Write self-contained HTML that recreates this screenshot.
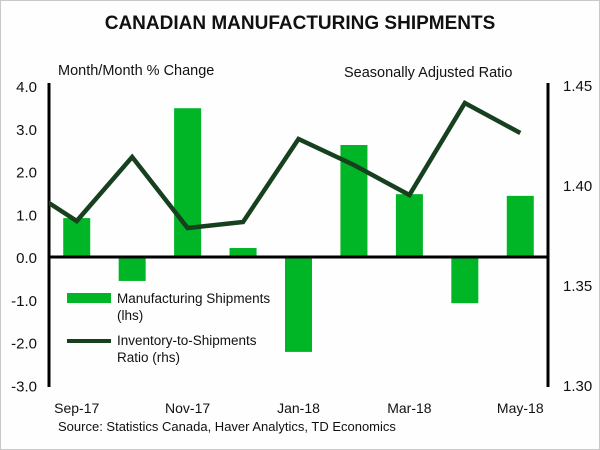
<!DOCTYPE html>
<html><head><meta charset="utf-8"><style>
body{margin:0;background:#fff}
svg{display:block;font-family:"Liberation Sans",sans-serif}
</style></head><body>
<svg id="c" width="600" height="450" viewBox="0 0 600 450">
<rect x="0.5" y="0.5" width="599" height="449" fill="#fdfefd" stroke="#c8c8c8"/>
<text x="300" y="29" text-anchor="middle" font-size="19" font-weight="bold" fill="#111">CANADIAN MANUFACTURING SHIPMENTS</text>
<text x="58" y="75" font-size="14.5" fill="#111">Month/Month % Change</text>
<text x="344" y="77" font-size="14.5" fill="#111">Seasonally Adjusted Ratio</text>
<defs><clipPath id="pa"><rect x="49" y="60" width="499" height="330"/></clipPath></defs>
<g id="bars"></g>
<g id="axes"></g>
<g id="lineg" clip-path="url(#pa)"></g>
<g>
<rect x="67" y="293" width="44" height="10" fill="#00b526"/>
<text x="117" y="303" font-size="13.5" fill="#111">Manufacturing Shipments</text>
<text x="117" y="320" font-size="13.5" fill="#111">(lhs)</text>
<line x1="67" y1="341" x2="111" y2="341" stroke="#17401f" stroke-width="4"/>
<text x="117" y="345" font-size="13.5" fill="#111">Inventory-to-Shipments</text>
<text x="117" y="362" font-size="13.5" fill="#111">Ratio (rhs)</text>
</g>
<text x="58" y="431" font-size="13" fill="#111">Source: Statistics Canada, Haver Analytics, TD Economics</text>
</svg>
<script>
const categories=["Sep-17","Oct-17","Nov-17","Dec-17","Jan-18","Feb-18","Mar-18","Apr-18","May-18"];
const shipments=[0.91,-0.56,3.48,0.21,-2.22,2.62,1.47,-1.08,1.43];
const ratio=[1.382,1.414,1.3785,1.3815,1.423,1.41,1.395,1.441,1.426];
const priorRatio=1.40;
const xLabels=["Sep-17","Nov-17","Jan-18","Mar-18","May-18"];
const leftTicks=["4.0","3.0","2.0","1.0","0.0","-1.0","-2.0","-3.0"];
const rightTicks=["1.45","1.40","1.35","1.30"];
const NS="http://www.w3.org/2000/svg";
const X0=49,X1=548,step=(X1-X0)/categories.length;
const xC=i=>X0+step*(i+0.5);
const yL=v=>257-v*42.75;
const yR=v=>385-(v-1.30)*2000;
function mk(t,a,p){const e=document.createElementNS(NS,t);for(const k in a)e.setAttribute(k,a[k]);p.appendChild(e);return e;}
const bars=document.getElementById('bars'),axes=document.getElementById('axes'),lg=document.getElementById('lineg');
shipments.forEach((v,i)=>{
 const y=Math.min(yL(v),yL(0));
 const r=mk('rect',{x:xC(i)-13.5,y:y,width:27,height:Math.abs(yL(v)-yL(0)),fill:'#00b526'},bars);
 
 
});
let l=mk('line',{x1:X0,y1:83,x2:X0,y2:387,stroke:'#000','stroke-width':3},axes);


l=mk('line',{x1:X1,y1:83,x2:X1,y2:387,stroke:'#000','stroke-width':3},axes);


l=mk('line',{x1:X0,y1:yL(0),x2:X1,y2:yL(0),stroke:'#000','stroke-width':3},axes);


leftTicks.forEach(t=>{
 const e=mk('text',{x:37,y:yL(parseFloat(t))+6,'text-anchor':'end','font-size':15,fill:'#111'},axes);e.textContent=t;
 
 
});
rightTicks.forEach(t=>{
 const e=mk('text',{x:563,y:yR(parseFloat(t))+6,'font-size':15,fill:'#111'},axes);e.textContent=t;
 
 
});
xLabels.forEach(t=>{
 const i=categories.indexOf(t);
 const e=mk('text',{x:xC(i),y:413,'text-anchor':'middle','font-size':14,fill:'#111'},axes);e.textContent=t;
 
 
});
const pts=[[xC(-1),yR(priorRatio)]].concat(ratio.map((v,i)=>[xC(i),yR(v)]));
const pl=mk('polyline',{points:pts.map(p=>p.join(',')).join(' '),fill:'none',stroke:'#17401f','stroke-width':4.5,'stroke-linejoin':'miter'},lg);


</script>
</body></html>
